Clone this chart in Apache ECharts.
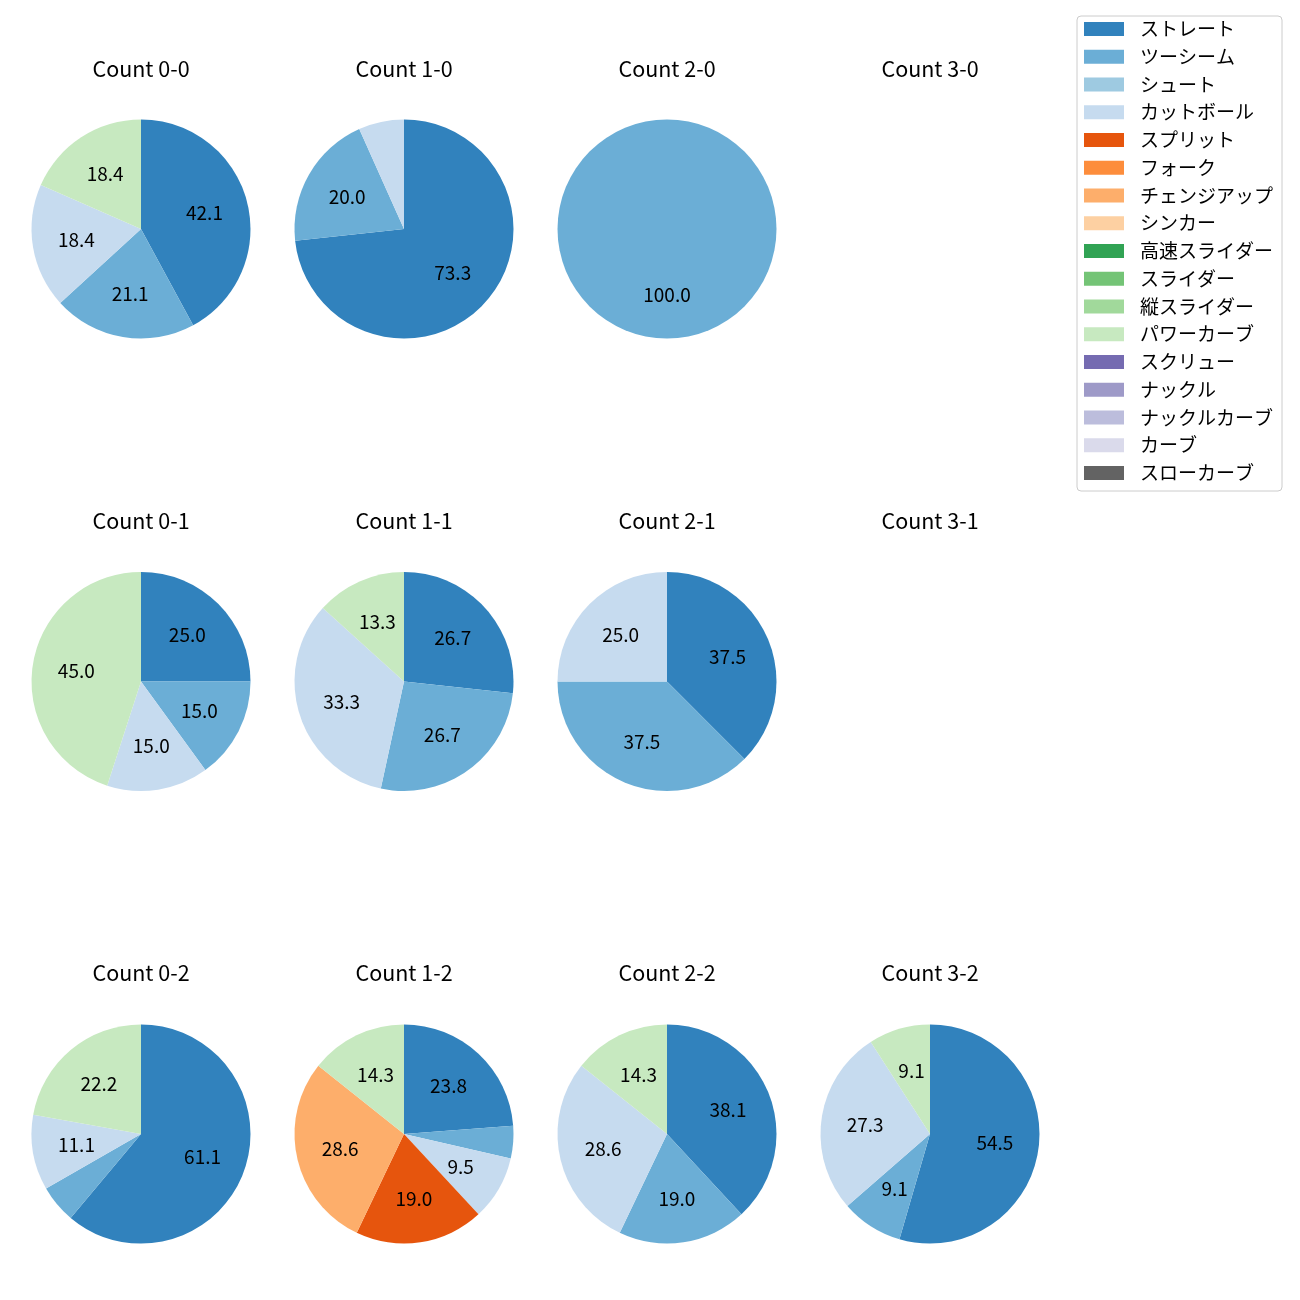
<!DOCTYPE html>
<html><head><meta charset="utf-8">
<script src="https://cdn.jsdelivr.net/npm/echarts@6/dist/echarts.min.js"></script>
<style>html,body{margin:0;padding:0;background:#fff}#c{width:1300px;height:1300px}</style>
</head><body><div id="c"></div>
<script>
const pitchTypes = ['ストレート','ツーシーム','シュート','カットボール','スプリット','フォーク','チェンジアップ','シンカー','高速スライダー','スライダー','縦スライダー','パワーカーブ','スクリュー','ナックル','ナックルカーブ','カーブ','スローカーブ'];
const pitchColors = ['#3182bd','#6baed6','#9ecae1','#c6dbef','#e6550d','#fd8d3c','#fdae6b','#fdd0a2','#31a354','#74c476','#a1d99b','#c7e9c0','#756bb1','#9e9ac8','#bcbddc','#dadaeb','#636363'];
const countLabels = ['0-0','1-0','2-0','3-0','0-1','1-1','2-1','3-1','0-2','1-2','2-2','3-2'];
// share (%) per count, null = no pitches in that count
const straight   = [42.1, 73.3, 0,     null, 25.0, 26.7, 37.5, null, 61.1, 23.8, 38.1, 54.5];
const twoSeam    = [21.1, 20.0, 100.0, null, 15.0, 26.7, 37.5, null, 5.6,  4.8,  19.0, 9.1];
const cutter     = [18.4, 6.7,  0,     null, 15.0, 33.3, 25.0, null, 11.1, 9.5,  28.6, 27.3];
const splitter   = [0,    0,    0,     null, 0,    0,    0,    null, 0,    19.0, 0,    0];
const changeup   = [0,    0,    0,     null, 0,    0,    0,    null, 0,    28.6, 0,    0];
const powerCurve = [18.4, 0,    0,     null, 45.0, 13.3, 0,    null, 22.2, 14.3, 14.3, 9.1];

const valuesByType = {'ストレート': straight, 'ツーシーム': twoSeam, 'カットボール': cutter, 'スプリット': splitter, 'チェンジアップ': changeup, 'パワーカーブ': powerCurve};

const FONT = '"Noto Sans CJK JP", "Noto Sans", sans-serif';
const colX = [141, 404, 667, 930];
const rowY = [229, 681.5, 1134];
const titleY = [69, 521, 973];
const R = 109.5;
const LABEL_INNER = 15.5;
const LABEL_MIN = 7;

const chart = echarts.init(document.getElementById('c'), null, {renderer: 'canvas'});
const series = [];
const graphic = [];
countLabels.forEach((c, i) => {
  const col = i % 4, row = Math.floor(i / 4);
  graphic.push({type: 'text', x: colX[col], y: titleY[row], silent: true,
    style: {text: 'Count ' + c, textAlign: 'center', textVerticalAlign: 'middle', fontSize: 21.5, fontFamily: FONT, fill: '#000'}});
  if (straight[i] == null) return;
  const vals = pitchTypes.map(t => valuesByType[t] ? valuesByType[t][i] : 0);
  series.push({
    type: 'pie', center: [colX[col], rowY[row]], radius: [0, R], startAngle: 90, clockwise: true,
    avoidLabelOverlap: false, label: {show: false}, labelLine: {show: false}, silent: true, animation: false,
    emphasis: {disabled: true},
    data: pitchTypes.map((t, k) => ({name: t, value: vals[k], itemStyle: {color: pitchColors[k], borderWidth: 0}}))
  });
  series.push({
    type: 'pie', center: [colX[col], rowY[row]], radius: [LABEL_INNER, R], startAngle: 90, clockwise: true,
    avoidLabelOverlap: false, silent: true, animation: false, legendHoverLink: false,
    emphasis: {disabled: true}, labelLine: {show: false},
    itemStyle: {color: 'rgba(0,0,0,0)', borderWidth: 0},
    label: {show: true, position: 'inside', color: '#000', fontSize: 19, fontFamily: FONT,
      formatter: p => p.value >= LABEL_MIN ? p.value.toFixed(1) : ''},
    data: pitchTypes.map((t, k) => ({name: t, value: vals[k]}))
  });
});

chart.setOption({
  backgroundColor: '#fff',
  animation: false,
  legend: {
    orient: 'vertical', left: 1077, top: 16, data: pitchTypes, icon: 'rect',
    itemWidth: 40, itemHeight: 14, itemGap: 8.75, padding: [3.5, 9, 8.5, 7],
    borderColor: '#cccccc', borderWidth: 1, borderRadius: 4, backgroundColor: '#fff',
    selectedMode: false,
    textStyle: {fontSize: 19, fontFamily: FONT, color: '#000', padding: [0, 0, 0, 11]}
  },
  graphic: graphic,
  series: series
});
</script></body></html>
